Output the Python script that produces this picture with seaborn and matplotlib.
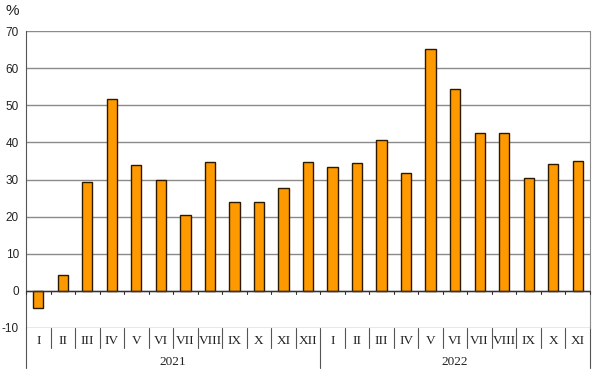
import pandas as pd
import matplotlib
matplotlib.use("Agg")
import matplotlib.pyplot as plt
import matplotlib.transforms as mtransforms
import seaborn as sns

# Data
months_2021 = ["I", "II", "III", "IV", "V", "VI", "VII", "VIII", "IX", "X", "XI", "XII"]
months_2022 = ["I", "II", "III", "IV", "V", "VI", "VII", "VIII", "IX", "X", "XI"]
values_2021 = [-4.6, 4.2, 29.3, 51.7, 34.0, 30.0, 20.5, 34.7, 24.0, 23.9, 27.6, 34.6]
values_2022 = [33.3, 34.4, 40.6, 31.7, 65.1, 54.5, 42.6, 42.6, 30.5, 34.1, 35.1]
years = ["2021", "2022"]
y_ticks = [-10, 0, 10, 20, 30, 40, 50, 60, 70]

df = pd.DataFrame({
    "year": [years[0]] * len(months_2021) + [years[1]] * len(months_2022),
    "month": months_2021 + months_2022,
    "value": values_2021 + values_2022,
})
df["key"] = df["year"] + "-" + df["month"]

sns.set_style("white")
plt.rcParams["font.family"] = ["Liberation Sans", "DejaVu Sans"]
serif = ["Liberation Serif", "DejaVu Serif"]

fig = plt.figure(figsize=(5.95, 3.78), dpi=100)
ax = fig.add_axes([26 / 595, 1 - 328 / 378, (590 - 26) / 595, (328 - 31) / 378])

sns.barplot(data=df, x="key", y="value", order=list(df["key"]), color="#FF9900",
            saturation=1, width=0.42, edgecolor="#2b1a00", linewidth=1, ax=ax, zorder=3)

n = len(df)
ax.set_xlim(-0.5, n - 0.5)
ax.set_ylim(-10, 70)
ax.set_yticks(y_ticks)
ax.set_yticklabels([str(t) for t in y_ticks], fontsize=8.5, color="#222222")
ax.tick_params(axis="y", length=3, width=0.8, color="#555555", pad=2)
ax.set_xticks([])
ax.set_xlabel("")
ax.set_ylabel("")

for t in y_ticks:
    ax.axhline(t, color="#8a8a8a", lw=1, zorder=1)
ax.axhline(0, color="#333333", lw=1, zorder=4)
for b in range(n + 1):
    ax.plot([b - 0.5, b - 0.5], [0, -0.8], color="#333333", lw=0.8, zorder=4, clip_on=False)

for side in ["top", "bottom"]:
    ax.spines[side].set_visible(False)
ax.spines["left"].set_color("#555555")
ax.spines["right"].set_color("#8a8a8a")

# two-level category axis
trans = mtransforms.blended_transform_factory(ax.transData, ax.transAxes)
for i, m in enumerate(df["month"]):
    ax.text(i, -0.044, m, transform=trans, ha="center", va="center", fontsize=9.5,
            family=serif, color="#222222")
for b in range(n + 1):
    bottom = -0.135 if b in (0, len(months_2021), n) else -0.067
    ax.plot([b - 0.5, b - 0.5], [0, bottom], transform=trans, color="#555555", lw=0.8, clip_on=False)
ax.text((len(months_2021) - 1) / 2, -0.114, years[0], transform=trans, ha="center", va="center",
        fontsize=9.5, family=serif, color="#222222")
ax.text(len(months_2021) + (len(months_2022) - 1) / 2, -0.114, years[1], transform=trans, ha="center",
        va="center", fontsize=9.5, family=serif, color="#222222")

fig.text(12 / 595, 1 - 11 / 378, "%", fontsize=11, ha="center", va="center", color="#222222")

fig.savefig("out.png", dpi=100)
